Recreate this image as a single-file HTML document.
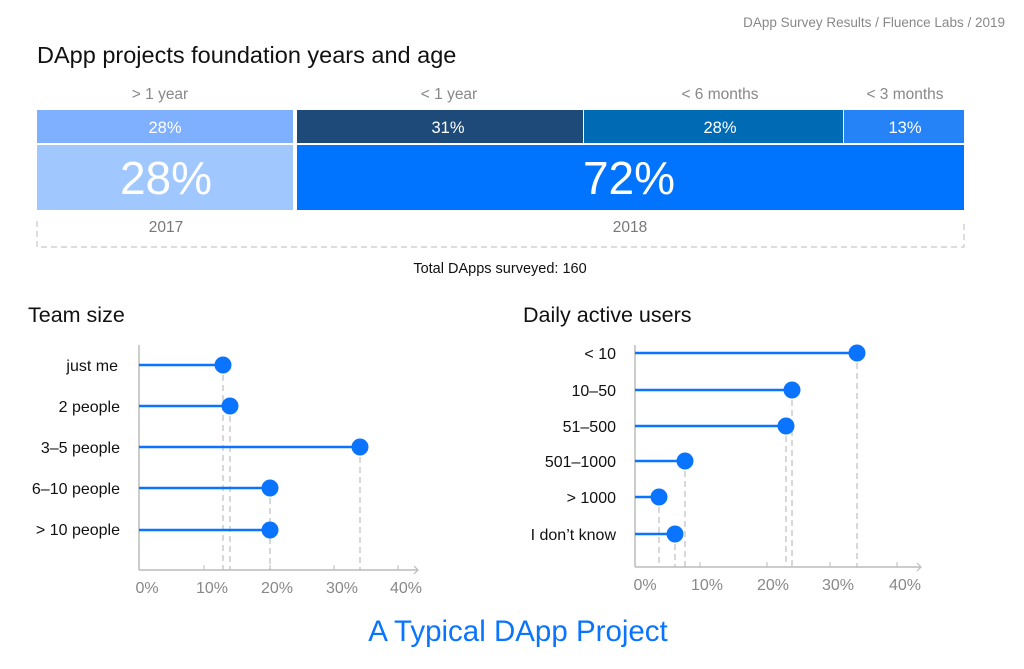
<!DOCTYPE html>
<html><head><meta charset="utf-8"><style>
body{margin:0;background:#fff;}
svg{display:block;font-family:"Liberation Sans",sans-serif;}
</style></head><body>
<svg width="1024" height="669" viewBox="0 0 1024 669">
<text x="1005" y="27" font-size="13.5" fill="#888" text-anchor="end">DApp Survey Results / Fluence Labs / 2019</text>
<text x="37" y="63" font-size="23.5" fill="#111">DApp projects foundation years and age</text>
<g font-size="15.5" fill="#888" text-anchor="middle">
<text x="160" y="99">&gt; 1 year</text>
<text x="449" y="99">&lt; 1 year</text>
<text x="720" y="99">&lt; 6 months</text>
<text x="905" y="99">&lt; 3 months</text>
</g>
<rect x="37" y="110" width="256" height="33" fill="#7fb0ff"/>
<rect x="297" y="110" width="286" height="33" fill="#1e4a79"/>
<rect x="584" y="110" width="259" height="33" fill="#006bb5"/>
<rect x="844" y="110" width="120" height="33" fill="#2683f7"/>
<rect x="37" y="145" width="256" height="65" fill="#a0c8ff"/>
<rect x="297" y="145" width="667" height="65" fill="#0074ff"/>
<g fill="#fff" text-anchor="middle">
<text x="165" y="133" font-size="16.5">28%</text>
<text x="448" y="133" font-size="16.5">31%</text>
<text x="720" y="133" font-size="16.5">28%</text>
<text x="905" y="133" font-size="16.5">13%</text>
<text x="166" y="194" font-size="46">28%</text>
<text x="629" y="194" font-size="46">72%</text>
</g>
<g font-size="15.5" fill="#777" text-anchor="middle">
<text x="166" y="232">2017</text>
<text x="630" y="232">2018</text>
</g>
<path d="M37 221V247H964V221" fill="none" stroke="#bbb" stroke-dasharray="6,4"/>
<text x="500" y="273" font-size="14.5" fill="#111" text-anchor="middle">Total DApps surveyed: 160</text>

<text x="28" y="322" font-size="21.5" fill="#111">Team size</text>
<text x="523" y="322" font-size="21.5" fill="#111">Daily active users</text>

<g stroke="#ccc" stroke-width="1.5" stroke-dasharray="6,4" fill="none">
<line x1="223" y1="365" x2="223" y2="570"/>
<line x1="230" y1="406" x2="230" y2="570"/>
<line x1="360" y1="447" x2="360" y2="570"/>
<line x1="270" y1="488" x2="270" y2="570"/>
</g>
<line x1="139" y1="345" x2="139" y2="570" stroke="#ccc" stroke-width="2"/>
<line x1="139" y1="570" x2="418" y2="570" stroke="#bbb" stroke-width="1.5"/>
<path d="M414 566L418 570L414 574" fill="none" stroke="#bbb" stroke-width="1.2"/>
<g stroke="#bbb" stroke-width="1"><line x1="204" y1="565" x2="204" y2="570"/><line x1="270" y1="565" x2="270" y2="570"/><line x1="334" y1="565" x2="334" y2="570"/><line x1="398" y1="565" x2="398" y2="570"/></g>
<g font-size="16" fill="#888" text-anchor="middle">
<text x="147" y="593">0%</text><text x="212" y="593">10%</text><text x="277" y="593">20%</text><text x="342" y="593">30%</text><text x="406" y="593">40%</text>
</g>
<g stroke="#0a74ff" stroke-width="2.5">
<line x1="139" y1="365" x2="223" y2="365"/>
<line x1="139" y1="406" x2="230" y2="406"/>
<line x1="139" y1="447" x2="360" y2="447"/>
<line x1="139" y1="488" x2="270" y2="488"/>
<line x1="139" y1="530" x2="270" y2="530"/>
</g>
<g fill="#0a74ff">
<circle cx="223" cy="365" r="8.5"/><circle cx="230" cy="406" r="8.5"/><circle cx="360" cy="447" r="8.5"/><circle cx="270" cy="488" r="8.5"/><circle cx="270" cy="530" r="8.5"/>
</g>
<g font-size="16" fill="#111" text-anchor="end">
<text x="118" y="371">just me</text><text x="120" y="412">2 people</text><text x="120" y="453">3–5 people</text><text x="120" y="494">6–10 people</text><text x="120" y="535">&gt; 10 people</text>
</g>

<g stroke="#ccc" stroke-width="1.5" stroke-dasharray="6,4" fill="none">
<line x1="857" y1="353" x2="857" y2="567"/>
<line x1="792" y1="390" x2="792" y2="567"/>
<line x1="786" y1="426" x2="786" y2="567"/>
<line x1="685" y1="461" x2="685" y2="567"/>
<line x1="659" y1="497" x2="659" y2="567"/>
<line x1="675" y1="534" x2="675" y2="567"/>
</g>
<line x1="635" y1="345" x2="635" y2="567" stroke="#ccc" stroke-width="2"/>
<line x1="635" y1="567" x2="921" y2="567" stroke="#bbb" stroke-width="1.5"/>
<path d="M917 563L921 567L917 571" fill="none" stroke="#bbb" stroke-width="1.2"/>
<g stroke="#bbb" stroke-width="1"><line x1="700" y1="562" x2="700" y2="567"/><line x1="767" y1="562" x2="767" y2="567"/><line x1="830" y1="562" x2="830" y2="567"/><line x1="897" y1="562" x2="897" y2="567"/></g>
<g font-size="16" fill="#888" text-anchor="middle">
<text x="645" y="590">0%</text><text x="707" y="590">10%</text><text x="773" y="590">20%</text><text x="838" y="590">30%</text><text x="905" y="590">40%</text>
</g>
<g stroke="#0a74ff" stroke-width="2.5">
<line x1="635" y1="353" x2="857" y2="353"/>
<line x1="635" y1="390" x2="792" y2="390"/>
<line x1="635" y1="426" x2="786" y2="426"/>
<line x1="635" y1="461" x2="685" y2="461"/>
<line x1="635" y1="497" x2="659" y2="497"/>
<line x1="635" y1="534" x2="675" y2="534"/>
</g>
<g fill="#0a74ff">
<circle cx="857" cy="353" r="8.5"/><circle cx="792" cy="390" r="8.5"/><circle cx="786" cy="426" r="8.5"/><circle cx="685" cy="461" r="8.5"/><circle cx="659" cy="497" r="8.5"/><circle cx="675" cy="534" r="8.5"/>
</g>
<g font-size="16" fill="#111" text-anchor="end">
<text x="616" y="359">&lt; 10</text><text x="616" y="396">10–50</text><text x="616" y="432">51–500</text><text x="616" y="467">501–1000</text><text x="616" y="503">&gt; 1000</text><text x="616" y="540">I don’t know</text>
</g>

<text x="518" y="641" font-size="29.5" fill="#0a74ff" text-anchor="middle">A Typical DApp Project</text>
</svg>
</body></html>
